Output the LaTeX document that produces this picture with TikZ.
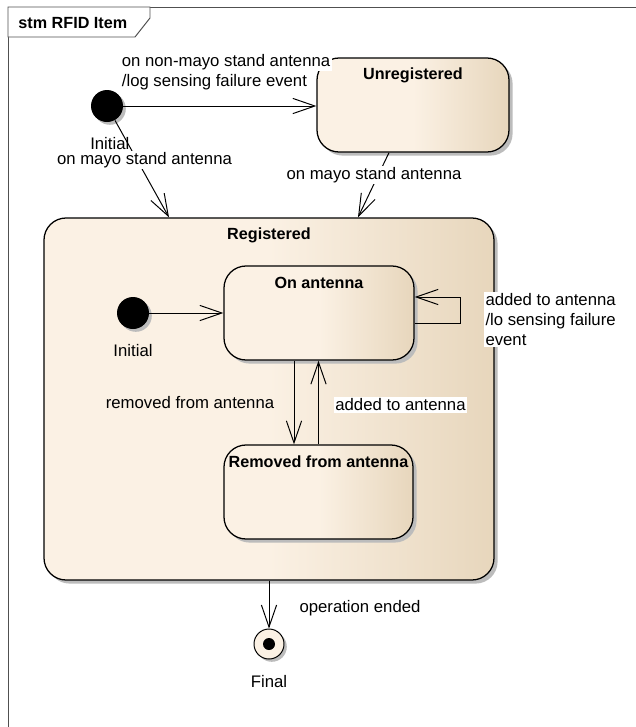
\documentclass[tikz,border=0pt]{standalone}
\usepackage{fontspec}
\setmainfont{Liberation Sans}
\usetikzlibrary{arrows.meta,positioning,calc}
\definecolor{stmlight}{RGB}{251,241,228}
\definecolor{stmdark}{RGB}{231,214,188}
\definecolor{stmshadow}{RGB}{188,188,188}
\definecolor{stmframe}{RGB}{80,80,80}
\pgfdeclarehorizontalshading{stmfill}{100bp}{color(0bp)=(stmlight); color(25bp)=(stmlight); color(50bp)=(stmlight); color(75bp)=(stmdark); color(100bp)=(stmdark)}

\begin{document}
\begin{tikzpicture}[font=\fontsize{11.9}{14.4}\selectfont, line width=0.7pt,
    state/.style={draw, line width=0.9pt, rounded corners=0.55cm, shading=stmfill},
    stateshadow/.style={fill=stmshadow, rounded corners=0.55cm},
    statetitle/.style={font=\fontsize{11.5}{14}\selectfont\bfseries, inner sep=0pt,
                       text height=8.4pt, text depth=0pt},
    pseudo/.style={circle, fill=black, minimum size=0.8cm, inner sep=0pt},
    dotshadow/.style={circle, fill=stmshadow, inner sep=0pt},
    finalstate/.style={circle, draw, fill=stmlight, minimum size=0.75cm, inner sep=0pt,
                   path picture={\fill[black] (path picture bounding box.center) circle (0.15cm);}},
    trans/.style={-{Straight Barb[length=0.55cm, width=0.38cm]}},
    lbl/.style={inner sep=1pt, align=left},
    wlbl/.style={lbl, fill=white}]
\useasboundingbox (0,0) rectangle (15.9,-18.175);

% diagram frame and its name tab
\draw[stmframe] (0.2,-18.175) -- (0.2,-0.175) -- (15.9,-0.175);
\draw[stmframe, fill=white] (0.2,-0.175) -- (3.75,-0.175) -- (3.75,-0.45) -- (3.375,-0.925) -- (0.2,-0.925) -- cycle;
\node[statetitle, anchor=west] (frametitle) at (0.45,-0.575) {stm RFID Item};

% states, each one after its shadow
\node[dotshadow, minimum size=0.8cm] (initsh) at ($(2.675,-2.65)+(0.07,-0.07)$) {};
\node[pseudo] (init) at (2.675,-2.65) {};
\node[lbl, below=0.33cm of init, xshift=0.07cm] (initlbl) {Initial};

\node[stateshadow, minimum width=4.8cm, minimum height=2.35cm] (unregsh) at ($(10.325,-2.625)+(0.09,-0.09)$) {};
\node[state, minimum width=4.8cm, minimum height=2.35cm] (unreg) at (10.325,-2.625) {};
\node[statetitle, below=0.25cm of unreg.north] (unregtitle) {Unregistered};

\node[stateshadow, minimum width=11.25cm, minimum height=9.05cm] (regsh) at ($(6.725,-9.975)+(0.09,-0.09)$) {};
\node[state, minimum width=11.25cm, minimum height=9.05cm] (reg) at (6.725,-9.975) {};
\node[statetitle, below=0.25cm of reg.north] (regtitle) {Registered};

\node[dotshadow, minimum size=0.8cm] (init2sh) at ($(3.325,-7.825)+(0.07,-0.07)$) {};
\node[pseudo] (init2) at (3.325,-7.825) {};
\node[lbl, below=0.33cm of init2] (init2lbl) {Initial};

\node[stateshadow, minimum width=4.75cm, minimum height=2.35cm] (onantsh) at ($(7.975,-7.825)+(0.09,-0.09)$) {};
\node[state, minimum width=4.75cm, minimum height=2.35cm] (onant) at (7.975,-7.825) {};
\node[statetitle, below=0.27cm of onant.north] (onanttitle) {On antenna};

\node[stateshadow, minimum width=4.725cm, minimum height=2.35cm] (removedsh) at ($(7.9625,-12.3)+(0.09,-0.09)$) {};
\node[state, minimum width=4.725cm, minimum height=2.35cm] (removed) at (7.9625,-12.3) {};
\node[statetitle, below=0.27cm of removed.north] (removedtitle) {Removed from antenna};

\node[dotshadow, minimum size=0.75cm] (finalsh) at ($(6.725,-16.1)+(0.07,-0.07)$) {};
\node[finalstate] (final) at (6.725,-16.1) {};
\node[lbl, below=0.36cm of final] (finallbl) {Final};

% transitions
\draw[trans] (init) -- (init -| unreg.west);
\draw[trans] (init) -- ([xshift=-2.5cm]reg.north);
\draw[trans] ([xshift=-0.6cm]unreg.south) -- ([xshift=2.225cm]reg.north);
\draw[trans] (init2) -- (onant.west);
\draw[trans] ([yshift=-0.25cm]onant.east) -- ++(1.15,0) |- ([yshift=0.4cm]onant.east);
\draw[trans] ([xshift=-0.625cm]onant.south) -- ([xshift=-0.625cm]onant.south |- removed.north);
\draw[trans] (removed.north) -- (removed.north |- onant.south);
\draw[trans] (reg.south) -- (final);

% guards and effects
\node[wlbl, anchor=west] (nonmayo) at (3.0,-1.55) {on non-mayo stand antenna};
\node[wlbl, anchor=west] (logfail) at (3.0,-2.05) {/log sensing failure event};
\node[wlbl] (mayo1) at (3.6125,-4.0) {on mayo stand antenna};
\node[wlbl] (mayo2) at (9.35,-4.375) {on mayo stand antenna};
\node[wlbl, anchor=west] (loopadd) at (12.09,-7.99) {added to antenna\\/lo sensing failure\\event};
\node[lbl] (remlbl) at (4.75,-10.075) {removed from antenna};
\node[wlbl] (addlbl) at (10.0125,-10.125) {added to antenna};
\node[lbl] (endlbl) at (9.0,-15.2) {operation ended};
\end{tikzpicture}
\end{document}
